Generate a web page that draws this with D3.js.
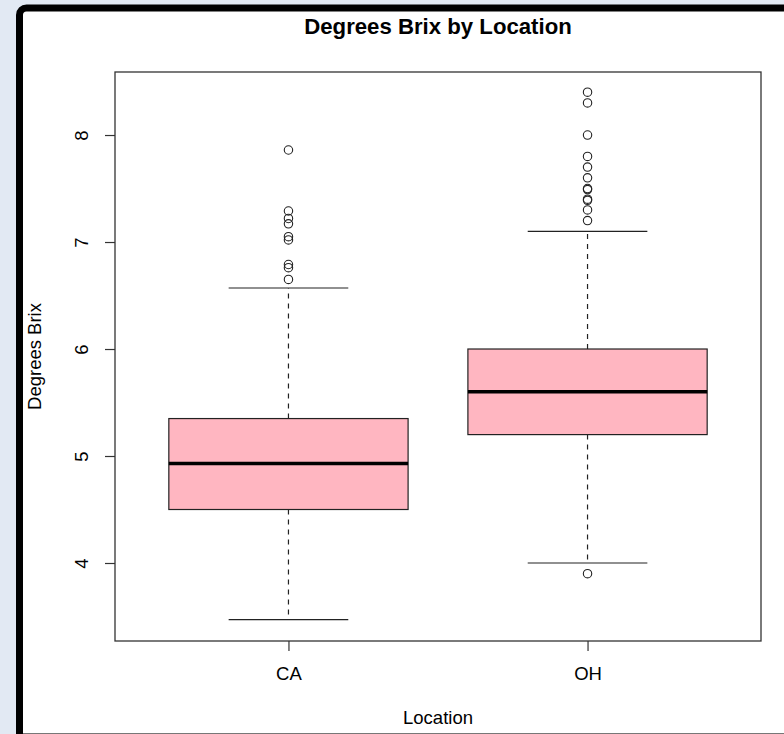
<!DOCTYPE html>
<html>
<head>
<meta charset="utf-8">
<script src="https://cdn.jsdelivr.net/npm/d3@7"></script>
<style>
  body { margin: 0; background: #e2e9f3; }
  svg { display: block; font-family: "Liberation Sans", Arial, sans-serif; }
</style>
</head>
<body>
<svg id="chart" width="784" height="734"></svg>
<script>
// groups and five-number summaries
var categories = ["CA", "OH"];
var lowerWhisker = [3.47, 4.0];
var q1Values = [4.5, 5.2];
var medianValues = [4.93, 5.6];
var q3Values = [5.35, 6.0];
var upperWhisker = [6.57, 7.1];
var outliersCA = [7.86, 7.29, 7.22, 7.17, 7.05, 7.02, 6.79, 6.76, 6.65];
var outliersOH = [8.4, 8.3, 8.0, 7.8, 7.7, 7.6, 7.5, 7.49, 7.4, 7.39, 7.3, 7.2, 3.9];
var yTicks = [4, 5, 6, 7, 8];

var outliers = [outliersCA, outliersOH];

var svg = d3.select("#chart");

// outer frame
svg.append("rect")
    .attr("x", 19.5).attr("y", 8)
    .attr("width", 820).attr("height", 760)
    .attr("rx", 7)
    .attr("fill", "#fff")
    .attr("stroke", "#000")
    .attr("stroke-width", 7);
svg.append("line")
    .attr("x1", 23).attr("x2", 784)
    .attr("y1", 733.5).attr("y2", 733.5)
    .attr("stroke", "#777").attr("stroke-width", 1);

var plot = {left: 115, right: 761, top: 72, bottom: 641};

// R style: xlim 0.5..n+0.5 widened by 4%
var x = d3.scaleLinear().domain([0.42, 2.58]).range([plot.left, plot.right]);
var y = d3.scaleLinear().domain([3.271, 8.589]).range([plot.bottom, plot.top]);

var boxHalf = 0.4, capHalf = 0.2;
var lineCol = "#222";

var groups = svg.selectAll("g.box")
    .data(categories)
    .enter().append("g")
    .attr("class", "box");

groups.each(function (cat, i) {
    var g = d3.select(this);
    var cx = x(i + 1);
    // whiskers
    g.append("line")
        .attr("x1", cx).attr("x2", cx)
        .attr("y1", y(q3Values[i])).attr("y2", y(upperWhisker[i]))
        .attr("stroke", lineCol).attr("stroke-width", 1.2)
        .attr("stroke-dasharray", "5,5");
    g.append("line")
        .attr("x1", cx).attr("x2", cx)
        .attr("y1", y(q1Values[i])).attr("y2", y(lowerWhisker[i]))
        .attr("stroke", lineCol).attr("stroke-width", 1.2)
        .attr("stroke-dasharray", "5,5");
    // caps
    [upperWhisker[i], lowerWhisker[i]].forEach(function (v) {
        g.append("line")
            .attr("x1", x(i + 1 - capHalf)).attr("x2", x(i + 1 + capHalf))
            .attr("y1", y(v)).attr("y2", y(v))
            .attr("stroke", lineCol).attr("stroke-width", 1.2);
    });
    // box
    g.append("rect")
        .attr("x", x(i + 1 - boxHalf))
        .attr("y", y(q3Values[i]))
        .attr("width", x(i + 1 + boxHalf) - x(i + 1 - boxHalf))
        .attr("height", y(q1Values[i]) - y(q3Values[i]))
        .attr("fill", "#ffb6c1")
        .attr("stroke", lineCol).attr("stroke-width", 1.2);
    // median
    g.append("line")
        .attr("x1", x(i + 1 - boxHalf)).attr("x2", x(i + 1 + boxHalf))
        .attr("y1", y(medianValues[i])).attr("y2", y(medianValues[i]))
        .attr("stroke", "#000").attr("stroke-width", 3.5);
    // outliers
    g.selectAll("circle")
        .data(outliers[i])
        .enter().append("circle")
        .attr("cx", cx)
        .attr("cy", function (d) { return y(d); })
        .attr("r", 4.2)
        .attr("fill", "none")
        .attr("stroke", lineCol).attr("stroke-width", 1.1);
});

// plot frame
svg.append("rect")
    .attr("x", plot.left).attr("y", plot.top)
    .attr("width", plot.right - plot.left)
    .attr("height", plot.bottom - plot.top)
    .attr("fill", "none")
    .attr("stroke", "#333").attr("stroke-width", 1.3);

// y axis
var yAxis = svg.append("g")
    .attr("transform", "translate(" + plot.left + ",0)")
    .call(d3.axisLeft(y).tickValues(yTicks).tickSize(10).tickFormat(d3.format("d")));
yAxis.select(".domain").remove();
yAxis.selectAll("line").attr("stroke", "#333").attr("stroke-width", 1.2);
yAxis.selectAll("text")
    .attr("x", null).attr("dy", null)
    .attr("transform", "translate(-27,0) rotate(-90)")
    .attr("text-anchor", "middle")
    .attr("font-size", 18.5)
    .attr("font-family", "Liberation Sans, Arial, sans-serif")
    .attr("fill", "#000");

// x axis
var xAxis = svg.append("g")
    .attr("transform", "translate(0," + plot.bottom + ")")
    .call(d3.axisBottom(x).tickValues([1, 2]).tickSize(10)
        .tickFormat(function (d) { return categories[d - 1]; }));
xAxis.select(".domain").remove();
xAxis.selectAll("line").attr("stroke", "#333").attr("stroke-width", 1.2);
xAxis.selectAll("text")
    .attr("y", 39).attr("dy", null)
    .attr("font-size", 18.5)
    .attr("font-family", "Liberation Sans, Arial, sans-serif")
    .attr("fill", "#000");

// titles
svg.append("text")
    .attr("x", (plot.left + plot.right) / 2).attr("y", 34)
    .attr("text-anchor", "middle")
    .attr("font-size", 22.2).attr("font-weight", "bold")
    .text("Degrees Brix by Location");

svg.append("text")
    .attr("x", (plot.left + plot.right) / 2).attr("y", 724)
    .attr("text-anchor", "middle")
    .attr("font-size", 18.5)
    .text("Location");

svg.append("text")
    .attr("transform", "translate(41," + (plot.top + plot.bottom) / 2 + ") rotate(-90)")
    .attr("text-anchor", "middle")
    .attr("font-size", 18.5)
    .text("Degrees Brix");
</script>
</body>
</html>
